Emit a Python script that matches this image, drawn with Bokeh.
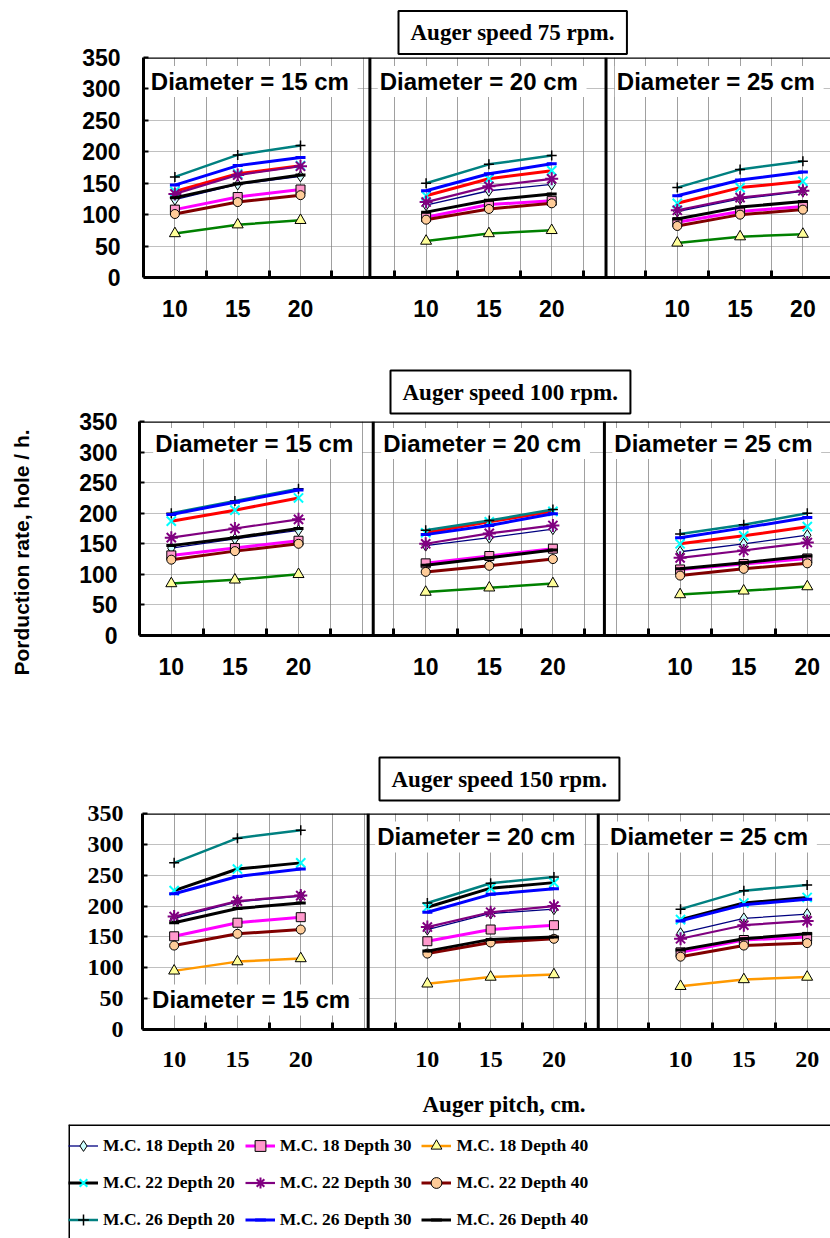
import numpy as np
from bokeh.plotting import figure
from bokeh.layouts import column
from bokeh.models import (Range1d, FixedTicker, Span, Label, Legend, LegendItem,
                          ColumnDataSource, Title)
from bokeh.embed import file_html
from bokeh.resources import INLINE

# ---------------- data ----------------
pitch = [10, 15, 20]                 # auger pitch, cm
diameters = [15, 20, 25]             # auger diameter, cm (panels)
speeds = [75, 100, 150]              # auger speed, rpm (rows)
y_ticks = [0, 50, 100, 150, 200, 250, 300, 350]
series = ["M.C. 18 Depth 20", "M.C. 18 Depth 30", "M.C. 18 Depth 40",
          "M.C. 22 Depth 20", "M.C. 22 Depth 30", "M.C. 22 Depth 40",
          "M.C. 26 Depth 20", "M.C. 26 Depth 30", "M.C. 26 Depth 40"]

# values: D15 (10,15,20), D20 (10,15,20), D25 (10,15,20)
# 75 rpm
r75_mc18_d20 = [124, 148, 161, 115, 138, 148, 105, 125, 137]
r75_mc18_d30 = [108, 128, 140, 96, 116, 122, 88, 105, 113]
r75_mc18_d40 = [70, 84, 91, 58, 70, 75, 55, 65, 69]
r75_mc22_d20 = [137, 165, 178, 130, 157, 170, 118, 143, 153]
r75_mc22_d30 = [133, 163, 177, 120, 145, 157, 107, 127, 138]
r75_mc22_d40 = [101, 120, 131, 92, 109, 118, 82, 100, 108]
r75_mc26_d20 = [160, 195, 210, 150, 180, 194, 143, 172, 185]
r75_mc26_d30 = [147, 178, 191, 138, 165, 181, 130, 155, 168]
r75_mc26_d40 = [127, 149, 163, 104, 123, 133, 93, 112, 121]
# 100 rpm
r100_mc18_d20 = [143, 158, 172, 147, 160, 174, 137, 150, 164]
r100_mc18_d30 = [131, 143, 155, 118, 130, 142, 108, 117, 126]
r100_mc18_d40 = [85, 91, 100, 71, 78, 85, 67, 73, 80]
r100_mc22_d20 = [187, 205, 225, 168, 186, 203, 150, 163, 178]
r100_mc22_d30 = [160, 175, 190, 150, 167, 180, 127, 139, 152]
r100_mc22_d40 = [124, 138, 150, 104, 114, 125, 98, 109, 118]
r100_mc26_d20 = [200, 220, 240, 172, 188, 206, 166, 181, 200]
r100_mc26_d30 = [198, 218, 238, 165, 180, 199, 160, 176, 193]
r100_mc26_d40 = [147, 160, 175, 115, 127, 140, 109, 119, 130]
# 150 rpm
r150_mc18_d20 = [180, 207, 216, 162, 188, 195, 156, 180, 187]
r150_mc18_d30 = [151, 173, 182, 143, 162, 169, 125, 145, 150]
r150_mc18_d40 = [95, 110, 115, 74, 85, 89, 70, 81, 85]
r150_mc22_d20 = [225, 260, 270, 198, 229, 238, 178, 205, 214]
r150_mc22_d30 = [183, 208, 217, 166, 190, 200, 147, 169, 176]
r150_mc22_d40 = [136, 155, 162, 123, 141, 147, 118, 136, 140]
r150_mc26_d20 = [270, 310, 323, 205, 237, 247, 195, 225, 234]
r150_mc26_d30 = [220, 248, 260, 190, 219, 228, 176, 202, 211]
r150_mc26_d40 = [173, 196, 205, 127, 146, 150, 129, 147, 155]

rows_data = {
    75: [r75_mc18_d20, r75_mc18_d30, r75_mc18_d40, r75_mc22_d20, r75_mc22_d30,
         r75_mc22_d40, r75_mc26_d20, r75_mc26_d30, r75_mc26_d40],
    100: [r100_mc18_d20, r100_mc18_d30, r100_mc18_d40, r100_mc22_d20, r100_mc22_d30,
          r100_mc22_d40, r100_mc26_d20, r100_mc26_d30, r100_mc26_d40],
    150: [r150_mc18_d20, r150_mc18_d30, r150_mc18_d40, r150_mc22_d20, r150_mc22_d30,
          r150_mc22_d40, r150_mc26_d20, r150_mc26_d30, r150_mc26_d40],
}

# ---------------- styles ----------------
SANS = "Liberation Sans"
SERIF = "Liberation Serif"
colors_150 = ["#000080", "#ff00ff", "#ff9900", "#000000", "#800080",
              "#800000", "#008080", "#0000ff", "#000000"]
colors_low = ["#000080", "#ff00ff", "#008000", "#ff0000", "#800080",
              "#800000", "#008080", "#0000ff", "#000000"]
line_w = [1.3, 3, 2.5, 3, 2.2, 3, 2.5, 3, 3]
markers = ["diamond", "square", "triangle", "x", "asterisk", "circle", "cross", "dash", "dash"]
m_fill = ["#ccffff", "#ff99cc", "#ffff99", None, None, "#ffcc99", None, "#0000ff", "#000000"]
m_line = ["#000000", "#000000", "#000000", "#00ffff", "#800080", "#000000", "#000000", "#0000ff", "#000000"]
m_size = [11, 9, 11, 13, 13, 9, 10, 10, 10]
m_lw = [1, 1, 1, 2, 2, 1, 1.5, 3, 3]

BORDER = 179   # common left border of every canvas; canvases are shifted with a negative margin

geo = {
    75: dict(h=350, left=143, step=31.4, top=57, bottom=73, seps=[7.21, 14.73],
             dlab=[(0.17, 312), (7.46, 312), (15.01, 312)], toff=255, tstand=7,
             font=SANS, fsize="23px", ystand=23),
    100: dict(h=370, left=139, step=31.8, top=71, bottom=85, seps=[7.35, 14.62],
              dlab=[(0.43, 314), (7.6, 314), (14.87, 314)], toff=251, tstand=16,
              font=SANS, fsize="23px", ystand=22),
    150: dict(h=360, left=142, step=31.65, top=93, bottom=51, seps=[7.13, 14.4],
              dlab=[(0.24, 48), (7.35, 312), (14.71, 312)], toff=237, tstand=26,
              font=SERIF, fsize="24px", ystand=19),
}


def slot(panel, k):
    return panel * 8 + 1 + 2 * k


def shifted(left):
    shift = BORDER - left
    w = 830 + shift
    return dict(width=w, styles={"margin-left": f"-{shift}px", "min-width": f"{w}px",
                                 "max-width": "none", "flex-shrink": "0"})


figs = []
legend_sources = []
for speed in speeds:
    g = geo[speed]
    x_end = (830 - g["left"]) / g["step"]
    sh = shifted(g["left"])
    p = figure(width=sh["width"], height=g["h"], x_range=Range1d(0, x_end), y_range=Range1d(0, 350),
               output_backend="svg", toolbar_location=None, tools="",
               min_border_left=BORDER, min_border_right=0,
               min_border_top=g["top"], min_border_bottom=g["bottom"])
    p.styles = sh["styles"]
    p.outline_line_color = None
    p.background_fill_color = "white"
    p.border_fill_color = "white"

    # title box
    p.title.text = f"Auger speed {speed} rpm."
    p.title.text_font = SERIF
    p.title.text_font_size = "23px"
    p.title.text_font_style = "bold"
    p.title.text_color = "black"
    p.title.align = "left"
    p.title.offset = g["toff"]
    p.title.standoff = g["tstand"]
    p.title.border_line_color = "black"
    p.title.border_line_width = 2
    p.title.background_fill_color = "white"
    p.title.padding = (12, 9)

    # x axis
    label_pos = [slot(i, k) for i in range(3) for k in range(3)]
    overrides = {slot(i, k): str(pitch[k]) for i in range(3) for k in range(3)}
    xa = p.xaxis[0]
    xa.ticker = FixedTicker(ticks=label_pos, minor_ticks=list(range(2, 22, 2)))
    xa.major_label_overrides = overrides
    xa.major_tick_in = 0
    xa.major_tick_out = 0
    xa.minor_tick_in = 7
    xa.minor_tick_out = 0
    xa.minor_tick_line_width = 3
    xa.axis_line_width = 3
    xa.major_label_text_font = g["font"]
    xa.major_label_text_font_size = g["fsize"]
    xa.major_label_text_font_style = "bold"
    xa.major_label_text_color = "black"
    xa.major_label_standoff = 22

    # y axis
    ya = p.yaxis[0]
    ya.ticker = FixedTicker(ticks=y_ticks)
    ya.major_tick_in = 5
    ya.major_tick_out = 0
    ya.minor_tick_in = 0
    ya.minor_tick_out = 0
    ya.axis_line_width = 3
    ya.major_tick_line_width = 2
    ya.major_label_text_font = g["font"]
    ya.major_label_text_font_size = g["fsize"]
    ya.major_label_text_font_style = "bold"
    ya.major_label_text_color = "black"
    ya.major_label_standoff = g["ystand"]

    # grids
    p.xgrid.ticker = FixedTicker(ticks=list(range(1, 22)))
    p.xgrid.grid_line_color = "#a0a0a0"
    p.xgrid.grid_line_width = 1
    p.ygrid.ticker = FixedTicker(ticks=y_ticks[1:])
    p.ygrid.grid_line_color = "#808080"
    p.ygrid.grid_line_dash = "1 1"

    # top border and panel separators
    p.add_layout(Span(location=350, dimension="width", line_color="black", line_width=2.5))
    for s in g["seps"]:
        p.add_layout(Span(location=s, dimension="height", line_color="black", line_width=3))

    colors = colors_150 if speed == 150 else colors_low
    for si, name in enumerate(series):
        vals = rows_data[speed][si]
        xs, ys = [], []
        for pi in range(3):
            for k in range(3):
                xs.append(slot(pi, k))
                ys.append(vals[pi * 3 + k])
            if pi < 2:
                xs.append(np.nan)
                ys.append(np.nan)
        src = ColumnDataSource(dict(x=np.array(xs, dtype=float), y=np.array(ys, dtype=float)))
        p.line("x", "y", source=src, line_color=colors[si], line_width=line_w[si])
        p.scatter("x", "y", source=src, marker=markers[si], size=m_size[si],
                  fill_color=m_fill[si], line_color=m_line[si], line_width=m_lw[si])
        if speed == 150:
            legend_sources.append((src, colors[si]))

    # diameter labels
    for di, d in enumerate(diameters):
        lx, ly = g["dlab"][di]
        p.add_layout(Label(x=lx, y=ly, text=f"Diameter = {d}  cm", text_font=SANS,
                           text_font_size="24px", text_font_style="bold", text_color="black",
                           text_baseline="middle", text_align="left",
                           background_fill_color="white", padding=2))

    if speed == 100:
        p.add_layout(Title(text="Porduction rate, hole / h.", text_font=SANS,
                           text_font_size="21px", text_font_style="bold", text_color="black",
                           align="left", offset=-40, standoff=88), "left")
    figs.append(p)

# ---------------- x-axis title + legend panel (series of the 150 rpm chart) ----------------
LG_LEFT = 68
lsh = shifted(LG_LEFT)
lg = figure(width=lsh["width"], height=158, x_range=Range1d(0, 830 - LG_LEFT), y_range=Range1d(0, 114),
            output_backend="svg", toolbar_location=None, tools="",
            x_axis_location=None, y_axis_location=None,
            min_border_left=BORDER, min_border_right=0, min_border_top=44, min_border_bottom=0)
lg.styles = lsh["styles"]
lg.grid.visible = False
lg.outline_line_color = None
lg.title.text = "Auger pitch, cm."
lg.title.text_font = SERIF
lg.title.text_font_size = "23px"
lg.title.text_font_style = "bold"
lg.title.text_color = "black"
lg.title.align = "left"
lg.title.offset = 422 - LG_LEFT
lg.title.standoff = 16
# legend box edges (left and top; right/bottom lie beyond the page)
lg.add_layout(Span(location=0, dimension="height", line_color="black", line_width=3))
lg.add_layout(Span(location=114, dimension="width", line_color="black", line_width=3))
items = []
for si, name in enumerate(series):
    src, col = legend_sources[si]
    lr = lg.line("x", "y", source=src, line_color=col, line_width=line_w[si], visible=False)
    sr = lg.scatter("x", "y", source=src, marker=markers[si], size=m_size[si],
                    fill_color=m_fill[si], line_color=m_line[si], line_width=m_lw[si],
                    visible=False)
    items.append(LegendItem(label=name, renderers=[lr, sr]))
legend = Legend(items=items, location=(0, 5), orientation="horizontal", ncols=3,
                label_text_font=SERIF, label_text_font_size="17.5px",
                label_text_font_style="bold", label_text_color="black",
                label_height=27, label_width=128,
                glyph_height=27, glyph_width=30, label_standoff=5, spacing=10,
                padding=7, margin=0, border_line_color=None, background_fill_alpha=0,
                inactive_fill_alpha=0)
lg.add_layout(legend)
figs.append(lg)

layout = column(*figs, spacing=0)
open("out.html", "w").write(file_html(layout, INLINE))
